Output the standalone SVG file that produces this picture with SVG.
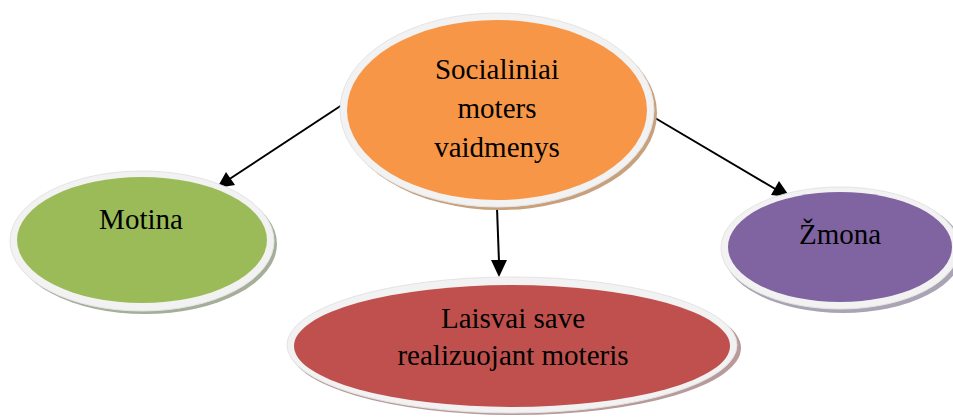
<svg xmlns="http://www.w3.org/2000/svg" width="953" height="417" viewBox="0 0 953 417">
<defs>
<style>
.rim{fill:#f2f2f2;stroke:#e4e4e4;stroke-width:1}
.lbl{font-family:"Liberation Serif","Times New Roman",serif;font-size:29px;fill:#000;text-anchor:middle}
.con{stroke:#000;stroke-width:2;fill:none}
.head{fill:#000}
</style>
</defs>
<rect width="953" height="417" fill="#fff"/>
<g id="connectors">
<line class="con" x1="345" y1="103" x2="228" y2="180"/>
<path class="head" d="M217,188 L226,172 L235,185 Z"/>
<line class="con" x1="497" y1="208" x2="499" y2="262"/>
<path class="head" d="M499,277 L491,260 L507,260 Z"/>
<line class="con" x1="650" y1="115" x2="777" y2="190"/>
<path class="head" d="M790,197 L771,195 L779,181 Z"/>
</g>
<g id="n-center">
<ellipse cx="500" cy="113" rx="157" ry="97" fill="#c8a07c"/>
<ellipse class="rim" cx="497" cy="110" rx="157" ry="97"/>
<ellipse cx="497" cy="110" rx="150" ry="90" fill="#f79646"/>
<text class="lbl" x="497" y="79">Socialiniai</text>
<text class="lbl" x="497" y="118">moters</text>
<text class="lbl" x="497" y="157">vaidmenys</text>
</g>
<g id="n-motina">
<ellipse cx="145" cy="244" rx="132" ry="70" fill="#a4ae98"/>
<ellipse class="rim" cx="142" cy="241" rx="132" ry="70"/>
<ellipse cx="142" cy="240" rx="125" ry="63" fill="#9bbb59"/>
<text class="lbl" x="141" y="229">Motina</text>
</g>
<g id="n-zmona">
<ellipse cx="843" cy="251" rx="120" ry="62" fill="#a9a3b3"/>
<ellipse class="rim" cx="840" cy="248" rx="119" ry="61"/>
<ellipse cx="840" cy="247" rx="112" ry="55" fill="#8064a2"/>
<text class="lbl" x="840" y="244">Žmona</text>
</g>
<g id="n-laisvai">
<ellipse cx="515" cy="348" rx="226" ry="67" fill="#b99a9a"/>
<ellipse class="rim" cx="512" cy="345" rx="225" ry="68"/>
<ellipse cx="512" cy="346" rx="218" ry="61" fill="#c0504d"/>
<text class="lbl" x="513" y="328">Laisvai save</text>
<text class="lbl" x="513" y="365">realizuojant moteris</text>
</g>
</svg>
